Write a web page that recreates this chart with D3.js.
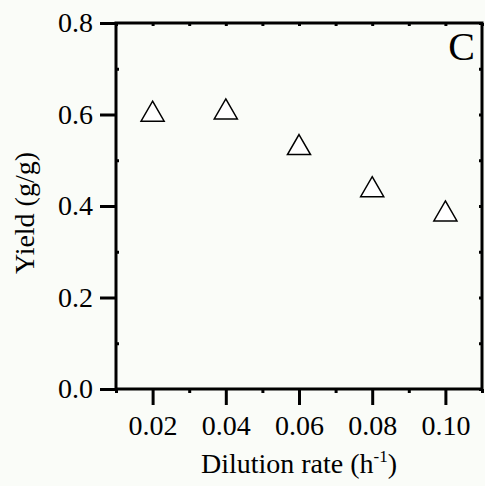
<!DOCTYPE html>
<html>
<head>
<meta charset="utf-8">
<script src="https://cdn.jsdelivr.net/npm/d3@7"></script>
<style>
  body { margin: 0; background: #fafcf8; }
  svg { display: block; }
  text { font-family: "Liberation Serif", "Times New Roman", serif; fill: #000; }
</style>
</head>
<body>
<script>
// data
const dilution = [0.02, 0.04, 0.06, 0.08, 0.10];
const yieldVals = [0.600, 0.605, 0.527, 0.435, 0.382];
const xTicks = [0.02, 0.04, 0.06, 0.08, 0.10];
const yTicks = [0.0, 0.2, 0.4, 0.6, 0.8];
const xMinor = [0.01, 0.03, 0.05, 0.07, 0.09, 0.11];
const yMinor = [0.1, 0.3, 0.5, 0.7];

const width = 485;
const height = 486;
const plotL = 116, plotR = 482, plotT = 23, plotB = 389;

const xScale = d3.scaleLinear()
                .domain([0.01, 0.11])
                .range([plotL, plotR]);
const yScale = d3.scaleLinear()
                .domain([0, 0.8])
                .range([plotB, plotT]);

const svg = d3.select("body")
            .append("svg")
            .attr("width", width)
            .attr("height", height);

//Axes
const bottomAxis = d3.axisBottom(xScale).tickValues(xTicks)
                     .tickFormat(d3.format(".2f")).tickSize(16).tickPadding(10);
const leftAxis = d3.axisLeft(yScale).tickValues(yTicks)
                   .tickFormat(d3.format(".1f")).tickSize(16).tickPadding(7);

function styleAxis(g) {
    g.select(".domain").remove();
    g.selectAll(".tick line").attr("stroke", "#000").attr("stroke-width", 3);
    g.selectAll(".tick text").attr("font-size", 28)
     .attr("font-family", "Liberation Serif");
}

const gx = svg.append("g")
    .attr("transform", "translate(0," + plotB + ")")
    .call(bottomAxis)
    .call(styleAxis);

svg.append("g")
    .attr("transform", "translate(" + plotL + ",0)")
    .call(leftAxis)
    .call(styleAxis);

// minor ticks
svg.append("g").attr("transform", "translate(0," + plotB + ")")
   .call(d3.axisBottom(xScale).tickValues(xMinor).tickSize(4).tickFormat(""))
   .call(styleAxis);
svg.append("g").attr("transform", "translate(0," + plotT + ")")
   .call(d3.axisBottom(xScale).tickValues(xTicks.concat(xMinor)).tickSize(3).tickFormat(""))
   .call(styleAxis);
svg.append("g").attr("transform", "translate(" + plotL + ",0)")
   .call(d3.axisRight(yScale).tickValues(yMinor).tickSize(3).tickFormat(""))
   .call(styleAxis);
svg.append("g").attr("transform", "translate(" + plotR + ",0)")
   .call(d3.axisLeft(yScale).tickValues(yTicks.concat(yMinor)).tickSize(3).tickFormat(""))
   .call(styleAxis);

// frame
svg.append("rect")
    .attr("x", plotL).attr("y", plotT)
    .attr("width", plotR - plotL).attr("height", plotB - plotT)
    .attr("fill", "none").attr("stroke", "#000").attr("stroke-width", 3);

// points
svg.selectAll("path.pt")
    .data(dilution)
    .enter()
    .append("path")
    .attr("class", "pt")
    .attr("d", d3.symbol().type(d3.symbolTriangle).size(231))
    .attr("transform", (d, i) => "translate(" + xScale(d) + "," + yScale(yieldVals[i]) + ")")
    .attr("fill", "#fff")
    .attr("stroke", "#000")
    .attr("stroke-width", 1.5);

// panel letter
svg.append("text")
    .attr("x", 475).attr("y", 60)
    .attr("text-anchor", "end")
    .attr("font-size", 40)
    .text("C");

// axis titles
const xt = svg.append("text")
    .attr("x", (plotL + plotR) / 2).attr("y", 473)
    .attr("text-anchor", "middle")
    .attr("font-size", 28);
xt.append("tspan").text("Dilution rate (h");
xt.append("tspan").attr("font-size", 17).attr("dy", -11).text("-1");
xt.append("tspan").attr("dy", 11).text(")");

svg.append("text")
    .attr("transform", "translate(34," + ((plotT + plotB) / 2 + 7) + ") rotate(-90)")
    .attr("text-anchor", "middle")
    .attr("font-size", 28)
    .text("Yield (g/g)");
</script>
</body>
</html>
